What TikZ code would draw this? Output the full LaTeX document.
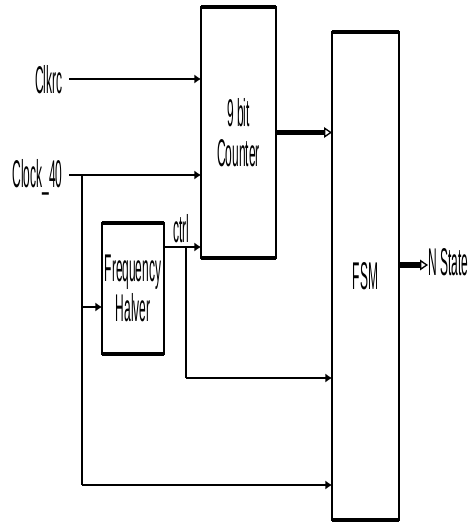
\documentclass[tikz,border=0pt]{standalone}
\usepackage{fontspec}
\setmainfont{Liberation Sans}[FakeStretch=0.31]
\usetikzlibrary{arrows.meta,positioning,calc}

\begin{document}
\begin{tikzpicture}[x=0.75pt,y=-0.75pt,
  blockbox/.style={draw,line width=0.9pt,inner sep=0pt,outer sep=0pt,align=center,
    font=\fontsize{29}{30}\selectfont},
  edgeline/.style={line width=2.4pt},
  lbl/.style={inner sep=1pt,font=\fontsize{29}{30}\selectfont},
  wire/.style={line width=1.9pt,-{Latex[length=5pt,width=7pt]}},
  branch/.style={line width=1pt},
  bus/.style={line width=4pt,-{Triangle[open,length=6pt,width=8pt,line width=1pt]}}
]
  \useasboundingbox (0,0) rectangle (473,524);

  % Blocks
  \node[blockbox,minimum width=56.25pt,minimum height=188.25pt] (cnt) at (238.5,132.5) {9 bit\\Counter};
  \node[blockbox,minimum width=46.5pt,minimum height=98.25pt] (half) at (133,288.5) {Frequency\\Halver};
  \node[blockbox,minimum width=50.25pt,minimum height=366pt] (fsm) at (365.5,276) {FSM};
  \foreach \b in {cnt,half,fsm} {
    \draw[edgeline] (\b.north west) -- (\b.north east);
    \draw[edgeline] (\b.south west) -- (\b.south east);
  }

  % Inputs
  \coordinate (clkin) at (69,79);
  \coordinate (c40in) at (69,175);
  \node[lbl,anchor=east] (clklbl) at (64,80) {Clkrc};
  \node[lbl,anchor=east] (c40lbl) at (64,177) {Clock\_40};
  \draw[wire] (clkin) -- (clkin -| cnt.west);
  \draw[wire] (c40in) -- (c40in -| cnt.west);

  % Clock_40 branches
  \coordinate (tap) at (82,175);
  \coordinate (low) at (82,485);
  \coordinate (hin) at (82,307);
  \draw[branch] (tap) -- (low);
  \draw[wire] (hin) -- (hin -| half.west);
  \draw[wire] (low) -- (low -| fsm.west);

  % ctrl
  \coordinate (ctrlout) at (164,247);
  \coordinate (ctap) at (186,247);
  \coordinate (cdown) at (186,378);
  \node[lbl,anchor=south] (ctrllbl) at (181,244) {ctrl};
  \draw[wire] (ctrlout) -- (ctrlout -| cnt.west);
  \draw[branch] (ctap) -- (cdown);
  \draw[wire] (cdown) -- (cdown -| fsm.west);

  % Buses
  \draw[bus] (cnt.east) -- (cnt.east -| fsm.west);
  \coordinate (nout) at (428,265);
  \draw[bus] (fsm.east |- nout) -- (nout);
  \node[lbl,anchor=west] (nstate) at (427,262) {N State};
\end{tikzpicture}
\end{document}
